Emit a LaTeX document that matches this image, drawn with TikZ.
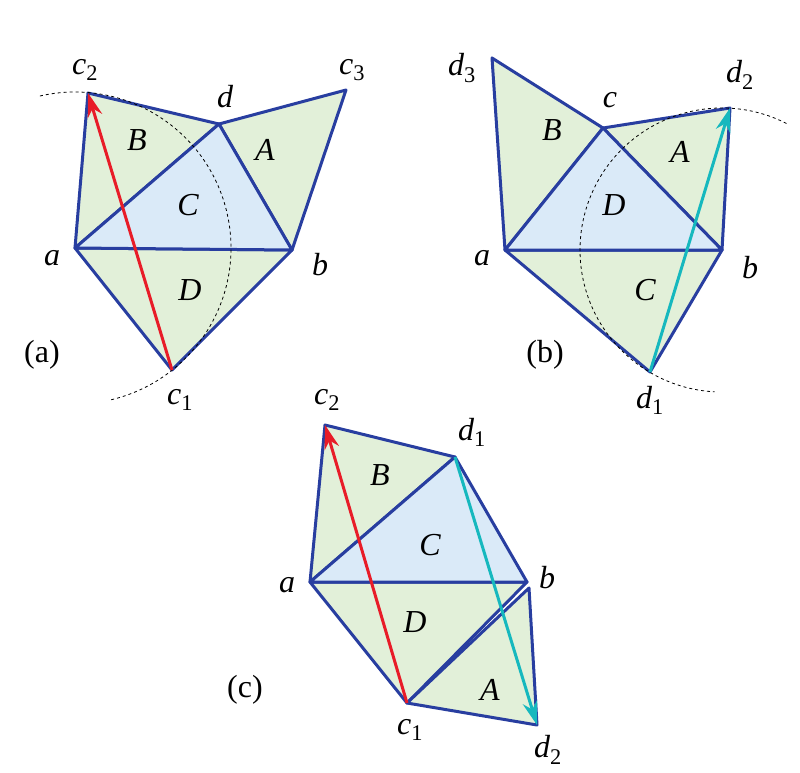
\documentclass[tikz,border=0pt]{standalone}
\usepackage{fontspec}
\setmainfont{Liberation Serif}
\usetikzlibrary{arrows.meta}
\definecolor{gf}{RGB}{226,240,217}
\definecolor{bf}{RGB}{218,234,248}
\definecolor{ed}{RGB}{40,62,160}
\definecolor{rd}{RGB}{232,28,40}
\definecolor{tl}{RGB}{22,184,190}
\tikzset{
 gtri/.style={fill=gf,draw=ed,line width=3pt,line join=round},
 btri/.style={fill=bf,draw=ed,line width=3pt,line join=round},
 lbl/.style={font=\fontsize{32}{36}\selectfont\itshape,inner sep=0pt},
 tag/.style={font=\fontsize{32}{36}\selectfont,inner sep=0pt},
 arc/.style={dashed,line width=0.8pt},
 rarr/.style={draw=rd,line width=3pt,-{Stealth[length=24pt,width=15pt]}},
 tarr/.style={draw=tl,line width=3pt,-{Stealth[length=24pt,width=15pt]}}
}
\newcommand{\vsub}[2]{#1\textsubscript{\upshape #2}}
\begin{document}
\begin{tikzpicture}[x=1pt,y=-1pt]
\useasboundingbox (0,0) rectangle (800,772);
% panel a
\coordinate (aa) at (75,248); \coordinate (ab) at (292,250);
\coordinate (ad) at (219,124); \coordinate (ac2) at (88,93);
\coordinate (ac3) at (346,90); \coordinate (ac1) at (172,370);
\draw[gtri] (aa)--(ac2)--(ad)--cycle;
\draw[gtri] (ad)--(ac3)--(ab)--cycle;
\draw[gtri] (aa)--(ab)--(ac1)--cycle;
\draw[btri] (aa)--(ad)--(ab)--cycle;
\draw[arc] (aa) ++(-103:156) arc[start angle=-103,end angle=77,radius=156];
\draw[rarr] (ac1)--(ac2);
\node[lbl] at (85,70) {\vsub{c}{2}}; \node[lbl] at (225,97) {d};
\node[lbl] at (352,70) {\vsub{c}{3}}; \node[lbl] at (137,140) {B};
\node[lbl] at (265,150) {A}; \node[lbl] at (188,205) {C};
\node[lbl] at (190,290) {D}; \node[lbl] at (52,258) {a};
\node[lbl] at (320,265) {b}; \node[lbl] at (180,400) {\vsub{c}{1}};
\node[tag] at (42,355) {(a)};
% panel b
\coordinate (ba) at (505,250); \coordinate (bb) at (722,250);
\coordinate (bc) at (603,128); \coordinate (bd3) at (492,58);
\coordinate (bd2) at (730,108); \coordinate (bd1) at (650,372);
\draw[gtri] (ba)--(bd3)--(bc)--cycle;
\draw[gtri] (bc)--(bd2)--(bb)--cycle;
\draw[gtri] (ba)--(bb)--(bd1)--cycle;
\draw[btri] (ba)--(bc)--(bb)--cycle;
\draw[arc] (bb) ++(-63:142) arc[start angle=-63,end angle=-267,radius=142];
\draw[tarr] (bd1)--(bd2);
\node[lbl] at (462,68) {\vsub{d}{3}}; \node[lbl] at (610,100) {c};
\node[lbl] at (740,75) {\vsub{d}{2}}; \node[lbl] at (552,130) {B};
\node[lbl] at (680,152) {A}; \node[lbl] at (614,205) {D};
\node[lbl] at (645,290) {C}; \node[lbl] at (482,258) {a};
\node[lbl] at (750,268) {b}; \node[lbl] at (650,400) {\vsub{d}{1}};
\node[tag] at (545,355) {(b)};
% panel c
\coordinate (ca) at (310,582); \coordinate (cb) at (527,582);
\coordinate (cd1) at (455,457); \coordinate (cc2) at (325,425);
\coordinate (cc1) at (407,703); \coordinate (cd2) at (537,725);
\coordinate (cbb) at (529,588);
\draw[gtri] (ca)--(cc2)--(cd1)--cycle;
\draw[gtri] (ca)--(cb)--(cc1)--cycle;
\draw[gtri] (cbb)--(cc1)--(cd2)--cycle;
\draw[btri] (ca)--(cd1)--(cb)--cycle;
\draw[rarr] (cc1)--(cc2);
\draw[tarr] (cd1)--(cd2);
\node[lbl] at (327,400) {\vsub{c}{2}}; \node[lbl] at (472,432) {\vsub{d}{1}};
\node[lbl] at (380,475) {B}; \node[lbl] at (430,545) {C};
\node[lbl] at (287,585) {a}; \node[lbl] at (547,578) {b};
\node[lbl] at (415,622) {D}; \node[lbl] at (490,690) {A};
\node[tag] at (245,690) {(c)};
\node[lbl] at (410,730) {\vsub{c}{1}}; \node[lbl] at (548,750) {\vsub{d}{2}};
\end{tikzpicture}
\end{document}
